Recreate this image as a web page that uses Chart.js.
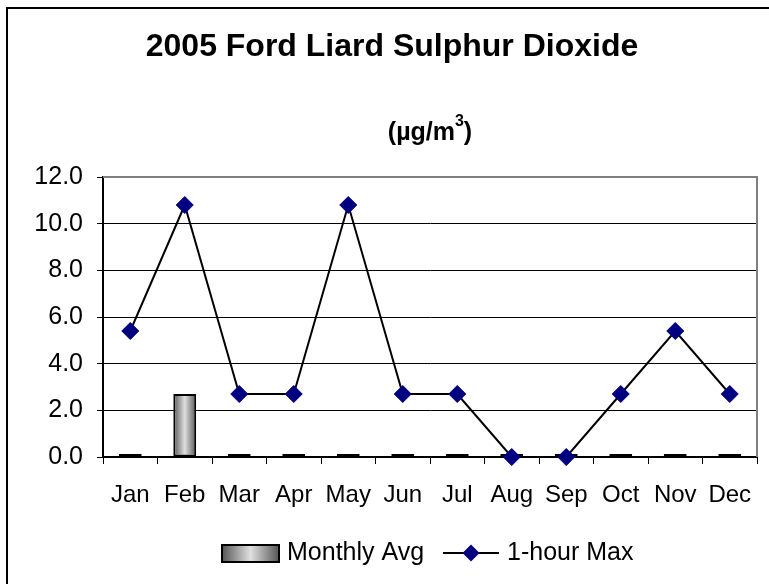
<!DOCTYPE html>
<html>
<head>
<meta charset="utf-8">
<script src="https://cdn.jsdelivr.net/npm/chart.js@4"></script>
<style>
html,body{margin:0;padding:0;background:#fff;}
canvas{display:block;}
</style>
</head>
<body>
<canvas id="chart" width="769" height="584"></canvas>
<script>
// Data
const months=['Jan','Feb','Mar','Apr','May','Jun','Jul','Aug','Sep','Oct','Nov','Dec'];
const monthlyAvg=[0.13,2.7,0.13,0.13,0.13,0.13,0.13,0.13,0.13,0.13,0.13,0.13];
const hourMax=[5.4,10.8,2.7,2.7,10.8,2.7,2.7,0,0,2.7,5.4,2.7];
const yMin=0, yMax=12, yStep=2;

const titleText='2005 Ford Liard Sulphur Dioxide';
const FONT="'Liberation Sans', Arial, sans-serif";
const BAR_PCT=0.42;

function greyGradient(ctx,x0,x1){
  const g=ctx.createLinearGradient(x0,0,x1,0);
  g.addColorStop(0,'#555555');
  g.addColorStop(0.5,'#e0e0e0');
  g.addColorStop(1,'#555555');
  return g;
}

function barFill(c){
  const chart=c.chart, x=chart.scales.x;
  if(!x||c.type!=='data') return '#aaaaaa';
  const cx=x.getPixelForValue(c.dataIndex);
  const half=x.width/months.length*BAR_PCT/2;
  if(!isFinite(cx)||!isFinite(half)||half<=0) return '#aaaaaa';
  return greyGradient(chart.ctx,cx-half,cx+half);
}

// frame, plot border, titles, legend
const decor={
  id:'decor',
  beforeDraw(chart){
    const ctx=chart.ctx;
    ctx.save();
    ctx.fillStyle='#fff';
    ctx.fillRect(0,0,chart.width,chart.height);
    ctx.strokeStyle='#000';
    ctx.lineWidth=2;
    ctx.strokeRect(7,8,900,900);
    ctx.restore();
  },
  beforeDatasetsDraw(chart){
    const ctx=chart.ctx, a=chart.chartArea;
    ctx.save();
    ctx.strokeStyle='#808080';
    ctx.lineWidth=2;
    ctx.beginPath();
    ctx.moveTo(a.left,a.top);
    ctx.lineTo(a.right,a.top);
    ctx.lineTo(a.right,a.bottom);
    ctx.stroke();
    ctx.restore();
  },
  afterDraw(chart){
    const ctx=chart.ctx;
    ctx.save();
    ctx.fillStyle='#000';
    ctx.textBaseline='middle';
    ctx.textAlign='center';
    ctx.font='bold 32px '+FONT;
    ctx.fillText(titleText,392,47);

    // unit line with raised 3
    ctx.textAlign='left';
    ctx.font='bold 25px '+FONT;
    const a='(µg/m', b=')';
    ctx.font='bold 16px '+FONT;
    const w3=ctx.measureText('3').width;
    ctx.font='bold 25px '+FONT;
    const wa=ctx.measureText(a).width, wb=ctx.measureText(b).width;
    let ux=430-(wa+w3+wb)/2;
    ctx.fillText(a,ux,133);
    ctx.font='bold 16px '+FONT;
    ctx.fillText('3',ux+wa,122);
    ctx.font='bold 25px '+FONT;
    ctx.fillText(b,ux+wa+w3,133);

    // legend
    const ly=553;
    ctx.fillStyle=greyGradient(ctx,222,279);
    ctx.fillRect(222,545,57,17);
    ctx.strokeStyle='#000';
    ctx.lineWidth=2;
    ctx.strokeRect(222,545,57,17);
    ctx.fillStyle='#000';
    ctx.textAlign='left';
    ctx.font='25px '+FONT;
    ctx.fillText('Monthly Avg',287,ly);
    ctx.beginPath();
    ctx.moveTo(443,ly);
    ctx.lineTo(499,ly);
    ctx.stroke();
    ctx.fillStyle='#000080';
    ctx.beginPath();
    ctx.moveTo(471,ly-8.5);
    ctx.lineTo(479.5,ly);
    ctx.lineTo(471,ly+8.5);
    ctx.lineTo(462.5,ly);
    ctx.closePath();
    ctx.fill();
    ctx.fillStyle='#000';
    ctx.fillText('1-hour Max',507,ly);
    ctx.restore();
  }
};

const chart=new Chart(document.getElementById('chart'),{
  type:'bar',
  data:{
    labels:months,
    datasets:[
      {
        type:'line',label:'1-hour Max',data:hourMax,order:0,
        borderColor:'#000',borderWidth:2,tension:0,clip:false,
        pointStyle:'rectRot',pointRadius:8.5,pointHoverRadius:8.5,
        pointBackgroundColor:'#000080',pointBorderColor:'#000080',pointBorderWidth:1
      },
      {
        type:'bar',label:'Monthly Avg',data:monthlyAvg,order:1,
        backgroundColor:barFill,borderColor:'#000',borderWidth:2,borderSkipped:false,
        barPercentage:BAR_PCT,categoryPercentage:1
      }
    ]
  },
  options:{
    responsive:false,
    animation:false,
    events:[],
    layout:{padding:{top:177,right:12,bottom:67,left:0}},
    plugins:{legend:{display:false},title:{display:false},tooltip:{enabled:false}},
    scales:{
      x:{
        afterFit(s){ s.height=60; },
        grid:{offset:true,drawOnChartArea:false,drawTicks:true,tickLength:7,color:'#000',lineWidth:1},
        border:{color:'#000',width:2},
        ticks:{color:'#000',font:{family:FONT,size:24},padding:17,maxRotation:0,autoSkip:false}
      },
      y:{
        min:yMin,max:yMax,
        afterFit(s){ s.width=103; },
        grid:{color:c=>c.tick&&c.tick.value===yMax?'rgba(0,0,0,0)':'#000',tickColor:'#000',tickLength:6,lineWidth:1},
        border:{color:'#000',width:2},
        ticks:{stepSize:yStep,color:'#000',font:{family:FONT,size:25},padding:14,callback:v=>v.toFixed(1)}
      }
    }
  },
  plugins:[decor]
});
</script>
</body>
</html>
